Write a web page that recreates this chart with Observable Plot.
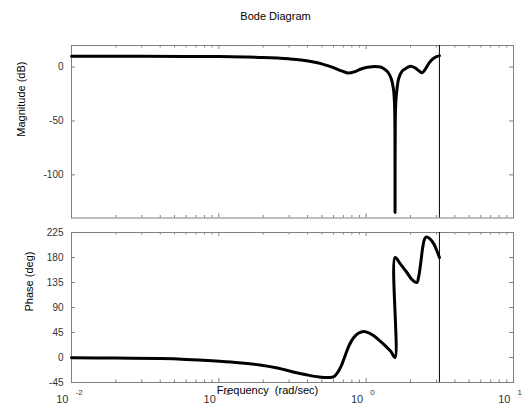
<!DOCTYPE html>
<html><head><meta charset="utf-8">
<script src="https://cdn.jsdelivr.net/npm/d3@7"></script>
<script src="https://cdn.jsdelivr.net/npm/@observablehq/plot@0.6"></script>
<style>
body{margin:0;background:#fff}
#chart{position:relative;width:524px;height:413px;background:#fff}
#chart svg{display:block}
</style></head><body><div id="chart"></div>
<script>
// ---- data ----
const title = ["Bode Diagram"];
const magLabel = ["Magnitude (dB)"];
const phaseLabel = ["Phase (deg)"];
const xLabel = ["Frequency\u00a0 (rad/sec)"];

const freqMag = [0.01, 0.03, 0.06, 0.1, 0.15, 0.2, 0.25, 0.3, 0.36, 0.43, 0.5, 0.6, 0.68, 0.76, 0.84, 0.92, 1.0, 1.1, 1.25, 1.32, 1.40, 1.48, 1.53, 1.555, 1.566, 1.5708, 1.576, 1.59, 1.62, 1.66, 1.75, 1.85, 2.0, 2.15, 2.28, 2.40, 2.52, 2.65, 2.8, 3.0, 3.1416];
const magDb   = [10.0, 10.0, 9.9, 9.7, 9.3, 8.9, 8.3, 7.6, 6.6, 5.0, 3.0, -0.6, -3.5, -5.6, -4.2, -1.8, -0.4, 0.4, 0.0, -1.5, -4.5, -10.8, -20, -32, -50, -135, -50, -32, -20, -10.8, -4.0, -1.5, 0.8, -0.8, -3.5, -5.3, -2.0, 3.0, 7.0, 9.6, 10.4];

const freqPhase = [0.01, 0.02, 0.04, 0.06, 0.09, 0.13, 0.19, 0.25, 0.32, 0.40, 0.48, 0.557, 0.60, 0.636, 0.68, 0.724, 0.77, 0.824, 0.89, 0.963, 1.05, 1.127, 1.25, 1.35, 1.47, 1.5708, 1.5708, 1.70, 1.89, 2.05, 2.21, 2.27, 2.34, 2.42, 2.49, 2.56, 2.7, 2.87, 3.0, 3.1416];
const phaseDeg  = [-0.5, -1, -2, -3.5, -6, -9, -13.5, -19, -26, -31.5, -35, -36, -35, -28, -14, 5, 23, 36, 44, 47, 44, 39, 29, 21, 11, 0, 180, 169, 153, 140, 135, 145, 168, 198, 213, 217, 214, 205, 194, 180];

const nyquist = [3.1416];
const magTicks = [0, -50, -100];
const phaseTicks = [-45, 0, 45, 90, 135, 180, 225];
const decades = [0.01, 0.1, 1, 10];
const exponents = ["-2", "-1", "0", "1"];
const minorMult = [2, 3, 4, 5, 6, 7, 8, 9];

// ---- layout ----
const W = 524, ML = 71, MR = 11;
const topH = 225, topMT = 45, topMB = 7.5;
const botH = 188, botMT = 7, botMB = 31;
const FW = W - ML - MR;
const tickColor = "#808080";
const textColor = "#333";
const font = "'Liberation Sans', Arial, Helvetica, sans-serif";

const minorX = decades.slice(0, 3).flatMap(d => minorMult.map(m => d * m));
const magData = freqMag.map((f, i) => ({f, v: magDb[i]}));
const phaseData = freqPhase.map((f, i) => ({f, v: phaseDeg[i]}));

function frameTicks(fh, yt) {
  return [
    Plot.tickX(decades, {x: d => d, insetBottom: fh - 4, stroke: tickColor}),
    Plot.tickX(decades, {x: d => d, insetTop: fh - 4, stroke: tickColor}),
    Plot.tickX(minorX, {x: d => d, insetBottom: fh - 2.5, stroke: tickColor}),
    Plot.tickX(minorX, {x: d => d, insetTop: fh - 2.5, stroke: tickColor}),
    Plot.tickY(yt, {y: d => d, insetRight: FW - 4, stroke: tickColor}),
    Plot.tickY(yt, {y: d => d, insetLeft: FW - 4, stroke: tickColor})
  ];
}

const topPlot = Plot.plot({
  width: W, height: topH,
  marginLeft: ML, marginRight: MR, marginTop: topMT, marginBottom: topMB,
  style: {fontFamily: font, fontSize: "10px", background: "white", overflow: "visible", color: textColor},
  x: {type: "log", domain: [0.01, 10], axis: null},
  y: {domain: [-140, 20], axis: null},
  marks: [
    ...frameTicks(topH - topMT - topMB, magTicks),
    Plot.frame({stroke: tickColor}),
    Plot.line(magData, {x: "f", y: "v", stroke: "black", strokeWidth: 3, curve: "catmull-rom", strokeLinejoin: "round"}),
    Plot.ruleX(nyquist, {x: d => d, stroke: "black", strokeWidth: 1}),
    Plot.text(magTicks, {y: d => d, frameAnchor: "left", dx: -8, textAnchor: "end", fill: textColor}),
    Plot.text(magLabel, {text: d => d, frameAnchor: "left", dx: -50, dy: 5, rotate: -90, fill: "black", fontSize: 11}),
    Plot.text(title, {text: d => d, frameAnchor: "top", dx: -17, dy: -33, fill: "black", fontSize: 11})
  ]
});

const botPlot = Plot.plot({
  width: W, height: botH,
  marginLeft: ML, marginRight: MR, marginTop: botMT, marginBottom: botMB,
  style: {fontFamily: font, fontSize: "10px", background: "white", overflow: "visible", color: textColor},
  x: {type: "log", domain: [0.01, 10], axis: null},
  y: {domain: [-45, 225], axis: null},
  marks: [
    ...frameTicks(botH - botMT - botMB, phaseTicks),
    Plot.frame({stroke: tickColor}),
    Plot.line(phaseData, {x: "f", y: "v", stroke: "black", strokeWidth: 3, curve: "catmull-rom", strokeLinejoin: "round"}),
    Plot.ruleX(nyquist, {x: d => d, stroke: "black", strokeWidth: 1}),
    Plot.text(phaseTicks, {y: d => d, frameAnchor: "left", dx: -8, textAnchor: "end", fill: textColor}),
    Plot.text(phaseLabel, {text: d => d, frameAnchor: "left", dx: -42, dy: 4, rotate: -90, fill: "black", fontSize: 11}),
    Plot.text(decades, {x: d => d, text: () => "10", frameAnchor: "bottom", dx: -3, dy: 20, textAnchor: "end", fill: textColor, fontSize: 11}),
    Plot.text(decades, {x: d => d, text: (d, i) => exponents[i], frameAnchor: "bottom", dx: 4, dy: 12, textAnchor: "start", fill: textColor, fontSize: 8}),
    Plot.text(xLabel, {text: d => d, frameAnchor: "bottom", dx: -25, dy: 11, fill: "black", fontSize: 11})
  ]
});

const chart = document.getElementById("chart");
chart.appendChild(topPlot);
chart.appendChild(botPlot);
</script>
</body></html>
